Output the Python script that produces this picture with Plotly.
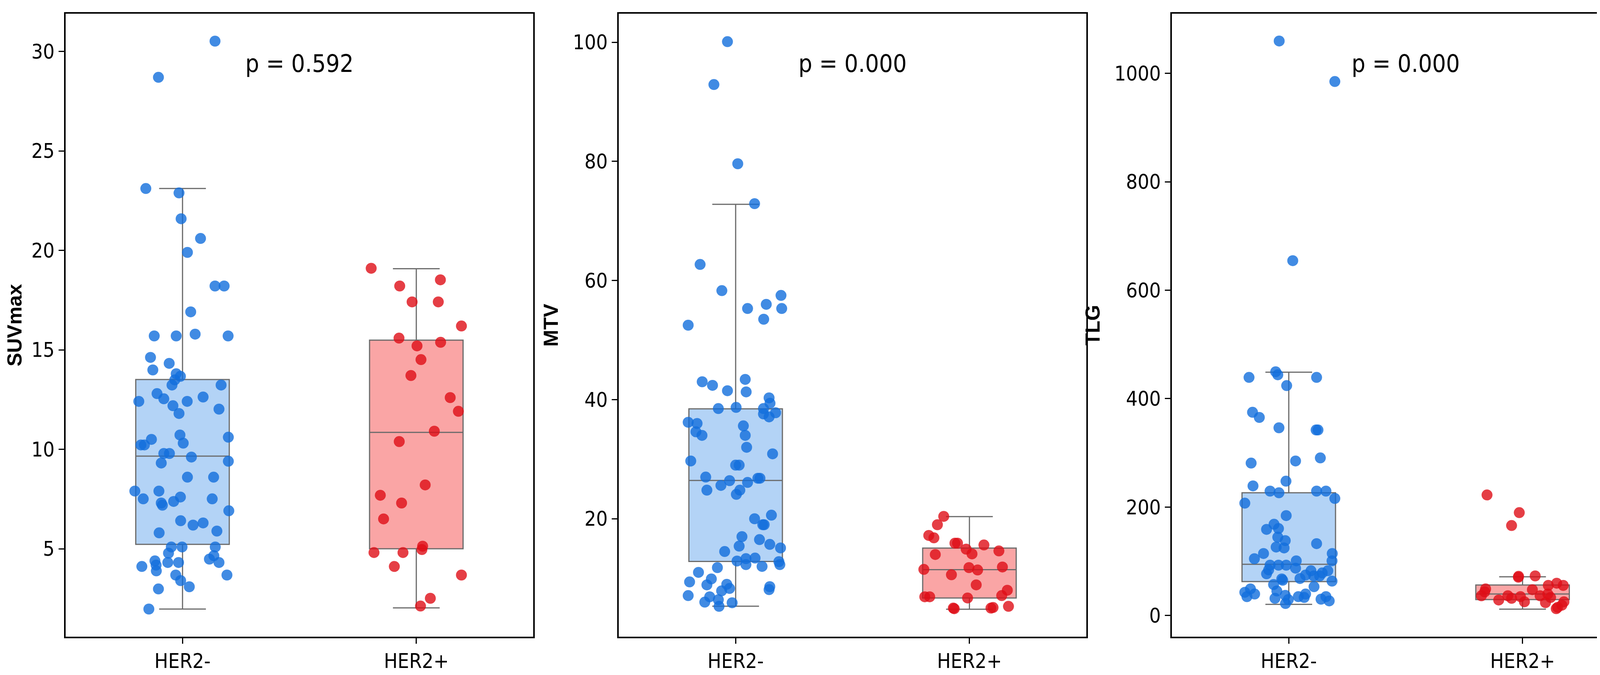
import plotly.graph_objects as go

GROUPS = ['HER2-', 'HER2+']
METRICS = ['SUVmax', 'MTV', 'TLG']
P_VALUES = ['p = 0.592', 'p = 0.000', 'p = 0.000']

# SUVmax, HER2- : values and the horizontal jitter
suv_neg = [30.52, 28.70, 23.11, 22.89, 21.59, 20.60, 19.90, 18.21, 18.21, 16.91,
           15.79, 15.70, 15.70, 15.70, 14.62, 14.32, 13.99, 13.80, 13.67, 13.49,
           13.23, 13.23, 12.80, 12.54, 12.63, 12.41, 12.41, 12.19, 12.02, 11.80,
           10.72, 10.50, 10.22, 10.22, 10.31, 10.61, 9.79, 9.79, 9.61, 9.40,
           9.31, 8.60, 8.60, 7.90, 7.90, 7.51, 7.51, 7.60, 7.38, 7.30,
           7.19, 6.91, 6.41, 6.30, 6.19, 5.89, 5.80, 5.09, 5.09, 5.09,
           4.78, 4.65, 4.48, 4.39, 4.31, 4.31, 4.31, 4.11, 4.18, 3.89,
           3.68, 3.68, 3.40, 2.98, 3.09, 1.97]
suv_neg_jit = [0.139, -0.103, -0.157, -0.015, -0.006, 0.077, 0.021, 0.139, 0.178, 0.035,
               0.054, -0.121, -0.027, 0.195, -0.137, -0.057, -0.127, -0.027, -0.009, -0.033,
               -0.045, 0.165, -0.109, -0.080, 0.088, -0.187, 0.020, -0.041, 0.156, -0.015,
               -0.011, -0.133, -0.178, -0.163, 0.003, 0.196, -0.080, -0.056, 0.038, 0.196,
               -0.091, 0.021, 0.133, -0.204, -0.101, -0.168, 0.127, -0.009, -0.038, -0.091,
               -0.086, 0.198, -0.008, 0.088, 0.045, 0.147, -0.100, -0.048, -0.002, 0.140,
               -0.060, 0.134, 0.115, -0.118, -0.063, -0.017, 0.156, -0.174, -0.113, -0.112,
               -0.029, 0.190, -0.008, -0.103, 0.029, -0.144]
suv_pos = [19.10, 18.21, 18.52, 17.41, 17.41, 16.20, 15.59, 15.20, 15.38, 14.51,
           13.71, 12.60, 11.91, 10.91, 10.39, 8.21, 7.69, 7.30, 6.50, 5.13,
           4.96, 4.81, 4.81, 4.11, 3.68, 2.51, 2.12]
suv_pos_jit = [-0.193, -0.071, 0.103, -0.018, 0.094, 0.193, -0.074, 0.003, 0.104, 0.020,
               -0.023, 0.145, 0.180, 0.077, -0.073, 0.038, -0.154, -0.063, -0.140, 0.027,
               0.024, -0.181, -0.057, -0.094, 0.193, 0.060, 0.018]

mtv_neg = [100.1, 92.9, 79.6, 72.9, 62.7, 58.3, 57.5, 56.0, 55.3, 55.3,
           53.5, 52.5, 43.4, 43.0, 42.4, 41.5, 41.3, 40.3, 39.4, 38.5,
           38.7, 38.5, 37.6, 37.8, 37.1, 36.2, 36.0, 34.6, 34.0, 35.6,
           34.0, 32.0, 30.9, 29.7, 29.0, 29.0, 27.0, 26.8, 26.8, 26.4,
           26.1, 25.6, 24.8, 24.8, 24.1, 20.0, 20.6, 19.0, 19.0, 17.0,
           16.5, 15.7, 15.4, 15.1, 14.5, 13.4, 12.9, 13.3, 12.3, 12.8,
           12.3, 12.0, 11.8, 11.0, 9.9, 9.4, 8.9, 9.0, 8.6, 8.1,
           7.9, 8.3, 7.1, 6.9, 6.0, 6.4, 5.9, 5.3]
mtv_neg_jit = [-0.035, -0.093, 0.009, 0.081, -0.152, -0.059, 0.194, 0.131, 0.051, 0.197,
               0.120, -0.203, 0.041, -0.143, -0.099, -0.035, 0.045, 0.143, 0.147, -0.074,
               0.002, 0.119, 0.119, 0.171, 0.143, -0.203, -0.165, -0.170, -0.144, 0.033,
               0.041, 0.047, 0.158, -0.192, 0.000, 0.015, -0.128, 0.095, 0.104, -0.026,
               0.051, -0.063, -0.123, 0.018, 0.003, 0.081, 0.153, 0.116, 0.122, 0.027,
               0.102, 0.146, 0.015, 0.192, -0.047, 0.083, 0.006, 0.044, 0.044, 0.185,
               0.189, 0.113, -0.078, -0.159, -0.104, -0.197, -0.123, -0.038, 0.146, 0.143,
               -0.060, -0.026, -0.203, -0.111, -0.132, -0.074, -0.015, -0.071]
mtv_pos = [20.4, 19.0, 17.2, 16.8, 15.9, 15.9, 15.6, 14.9, 14.6, 14.1,
           14.0, 11.5, 11.8, 11.4, 11.9, 10.6, 8.9, 8.0, 6.9, 6.9,
           6.7, 7.1, 5.0, 4.9, 5.0, 5.1, 5.3]
mtv_pos_jit = [-0.110, -0.137, -0.174, -0.152, -0.062, -0.051, 0.062, -0.014, 0.126, 0.011,
               -0.146, -0.195, -0.002, 0.035, 0.141, -0.077, 0.029, 0.162, -0.191, -0.170,
               -0.008, 0.138, -0.069, -0.065, 0.092, 0.101, 0.167]

tlg_neg = [1059.6, 984.9, 654.5, 449.6, 444.0, 439.2, 439.2, 424.1, 374.9, 365.4,
           346.3, 342.3, 342.3, 290.7, 285.1, 281.2, 247.8, 239.1, 229.5, 226.4,
           229.5, 229.5, 216.0, 207.3, 184.3, 168.4, 158.9, 160.4, 132.6, 144.6,
           138.2, 126.3, 124.7, 114.4, 114.4, 104.8, 100.9, 100.9, 92.9, 92.9,
           92.9, 87.4, 82.6, 82.6, 78.6, 84.2, 77.0, 74.7, 73.1, 73.1,
           68.3, 67.5, 65.1, 63.5, 57.2, 53.2, 49.2, 45.3, 42.9, 39.7,
           39.7, 37.3, 34.9, 34.9, 34.9, 31.8, 33.4, 29.4, 30.2, 27.0,
           22.2]
tlg_neg_jit = [-0.041, 0.197, 0.017, -0.056, -0.047, -0.170, 0.119, -0.009, -0.155, -0.126,
               -0.042, 0.117, 0.125, 0.135, 0.029, -0.161, -0.012, -0.153, -0.080, -0.042,
               0.119, 0.159, 0.197, -0.188, -0.011, -0.063, -0.095, -0.044, 0.119, -0.047,
               -0.015, -0.054, -0.020, 0.186, -0.108, -0.147, 0.185, 0.032, -0.080, -0.044,
               -0.011, 0.029, 0.095, 0.167, 0.143, -0.086, -0.095, 0.072, 0.107, 0.132,
               0.048, -0.030, -0.026, 0.185, -0.065, 0.108, -0.164, -0.051, -0.188, -0.146,
               0.072, -0.015, -0.179, 0.159, 0.041, -0.059, 0.066, -0.002, 0.138, 0.173,
               -0.014]
tlg_pos = [222.4, 189.8, 166.0, 72.3, 73.1, 70.7, 59.6, 55.6, 55.6, 49.2,
           47.7, 43.7, 36.5, 39.7, 36.5, 34.9, 36.5, 33.4, 31.8, 28.6,
           25.4, 23.8, 25.4, 19.1, 15.1, 12.7]
tlg_pos_jit = [-0.152, -0.014, -0.047, -0.017, 0.054, -0.018, 0.146, 0.174, 0.110, -0.158,
               0.042, -0.162, -0.176, 0.108, -0.063, -0.009, 0.075, 0.120, -0.047, -0.102,
               0.008, 0.098, 0.177, 0.168, 0.150, 0.144]

# box statistics per metric: [HER2-, HER2+]
q1 = {'SUVmax': [5.22, 5.00], 'MTV': [12.84, 6.69], 'TLG': [62.7, 29.4]}
median = {'SUVmax': [9.66, 10.85], 'MTV': [26.44, 11.46], 'TLG': [94.5, 39.7]}
q3 = {'SUVmax': [13.51, 15.49], 'MTV': [38.45, 15.08], 'TLG': [226.4, 56.4]}
lower_whisker = {'SUVmax': [1.97, 2.03], 'MTV': [5.32, 4.81], 'TLG': [20.7, 11.9]}
upper_whisker = {'SUVmax': [23.11, 19.08], 'MTV': [72.8, 20.36], 'TLG': [448.8, 71.5]}

points = {
    'SUVmax': [(suv_neg, suv_neg_jit), (suv_pos, suv_pos_jit)],
    'MTV': [(mtv_neg, mtv_neg_jit), (mtv_pos, mtv_pos_jit)],
    'TLG': [(tlg_neg, tlg_neg_jit), (tlg_pos, tlg_pos_jit)],
}
y_ranges = {'SUVmax': [0.58, 31.9], 'MTV': [0.2, 104.8], 'TLG': [-39, 1110]}
y_ticks = {'SUVmax': [5, 10, 15, 20, 25, 30], 'MTV': [20, 40, 60, 80, 100],
           'TLG': [0, 200, 400, 600, 800, 1000]}

BOX_FILL = ['#b3d3f6', '#faa5a5']
DOT_COLOR = ['rgba(18,110,220,0.8)', 'rgba(222,14,22,0.8)']
FONT = 'Liberation Sans Narrow, DejaVu Sans Condensed, Arial Narrow, sans-serif'
W, H = 4203, 1727
x_domains = [[160 / W, 1357 / W], [1576 / W, 2773 / W], [2992 / W, 4189 / W]]
y_domain = [1 - 1621 / H, 1 - 27 / H]

fig = go.Figure()
for i, metric in enumerate(METRICS):
    suffix = '' if i == 0 else str(i + 1)
    for g in range(2):
        fig.add_trace(go.Box(
            x=[g], q1=[q1[metric][g]], median=[median[metric][g]], q3=[q3[metric][g]],
            lowerfence=[lower_whisker[metric][g]], upperfence=[upper_whisker[metric][g]],
            width=0.4, whiskerwidth=0.5, fillcolor=BOX_FILL[g],
            line=dict(color='#6b6b6b', width=3), boxpoints=False,
            xaxis='x' + suffix, yaxis='y' + suffix, showlegend=False, hoverinfo='skip',
        ))
    for g in range(2):
        vals, jit = points[metric][g]
        fig.add_trace(go.Scatter(
            x=[g + j for j in jit], y=vals, mode='markers',
            marker=dict(size=28, color=DOT_COLOR[g], line=dict(width=0)),
            xaxis='x' + suffix, yaxis='y' + suffix, showlegend=False,
        ))

    axis_common = dict(showline=True, linecolor='black', linewidth=3.5, mirror=True,
                       ticks='outside', ticklen=14, tickwidth=3, tickcolor='black',
                       showgrid=False, zeroline=False,
                       tickfont=dict(family=FONT, size=52, color='black'))
    fig.layout['xaxis' + suffix] = dict(
        axis_common, domain=x_domains[i], range=[-0.5, 1.5],
        tickvals=[0, 1], ticktext=GROUPS, anchor='y' + suffix,
    )
    fig.layout['yaxis' + suffix] = dict(
        axis_common, domain=y_domain, range=y_ranges[metric], tickvals=y_ticks[metric],
        anchor='x' + suffix,
        title=dict(text='<b>' + metric + '</b>', standoff=22,
                   font=dict(family='Liberation Sans, Arial, sans-serif', size=52, color='black')),
    )
    fig.add_annotation(
        text=P_VALUES[i], xref='x' + suffix + ' domain', yref='y' + suffix + ' domain',
        x=0.5, y=0.92, xanchor='center', yanchor='middle', showarrow=False,
        font=dict(family=FONT, size=62, color='black'),
    )

fig.update_layout(
    width=W, height=H, margin=dict(l=0, r=0, t=0, b=0),
    plot_bgcolor='white', paper_bgcolor='white',
)

fig.write_html("out.html")
